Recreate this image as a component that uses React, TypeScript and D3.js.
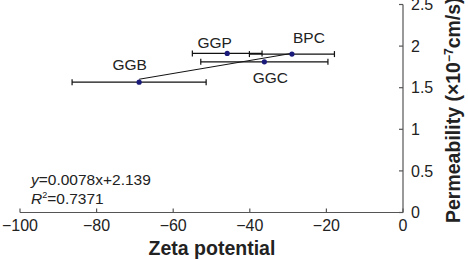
import React from "react";
import * as d3 from "d3";

const width = 468;
const height = 260;

const names = ["GGB", "GGP", "GGC", "BPC"];
const zeta = [-68.9, -45.9, -36.2, -29.0];
const zetaErr = [17.5, 9.1, 16.6, 11.1];
const permeability = [1.567, 1.912, 1.811, 1.904];

const xTicks = [-100, -80, -60, -40, -20, 0];
const yTicks = [0, 0.5, 1, 1.5, 2, 2.5];

const slope = 0.0078;
const intercept = 2.139;

// label offsets from the point, in px
const labelOffsets = [
  [-9.5, -12],
  [-12.5, -5],
  [6, 21.6],
  [17, -10.7],
];

const font = "'Liberation Sans', Arial, sans-serif";
const axisColor = "#555";

const App = () => {
  const x = d3.scaleLinear().domain([-100, 0]).range([20, 403]);
  const y = d3.scaleLinear().domain([0, 2.5]).range([212.5, 4.5]);
  const fmt = d3.format("");

  const xMin = d3.min(zeta) as number;
  const xMax = d3.max(zeta) as number;
  const line = d3
    .line<number>()
    .x((d) => x(d))
    .y((d) => y(slope * d + intercept));

  return (
    <svg
      width={width}
      height={height}
      style={{ position: "absolute", left: 0, top: 0, background: "#fff" }}
      fontFamily={font}
    >
      {/* x axis */}
      <line x1={x(-100)} x2={x(0)} y1={y(0)} y2={y(0)} stroke={axisColor} strokeWidth={1.2} />
      {xTicks.map((t) => (
        <g key={t}>
          <line x1={x(t)} x2={x(t)} y1={y(0)} y2={y(0) - 4} stroke={axisColor} strokeWidth={1.2} />
          <text x={x(t)} y={231} textAnchor="middle" fontSize={16} fill="#222">
            {fmt(t)}
          </text>
        </g>
      ))}
      <text x={212} y={255} textAnchor="middle" fontSize={19.5} fontWeight="bold" fill="#222">
        Zeta potential
      </text>

      {/* y axis on the right */}
      <line x1={x(0)} x2={x(0)} y1={y(0)} y2={y(2.5)} stroke={axisColor} strokeWidth={1.2} />
      {yTicks.map((t) => (
        <g key={t}>
          <line x1={x(0)} x2={x(0) - 4} y1={y(t)} y2={y(t)} stroke={axisColor} strokeWidth={1.2} />
          <text x={411} y={y(t)} dy="0.36em" fontSize={16} fill="#222">
            {fmt(t)}
          </text>
        </g>
      ))}
      <text
        transform="translate(460,223) rotate(-90)"
        fontSize={19.5}
        fontWeight="bold"
        fill="#222"
      >
        Permeability (×10
        <tspan fontSize={12} dy={-7}>−7</tspan>
        <tspan dy={7}>cm/s)</tspan>
      </text>

      {/* error bars */}
      {zeta.map((z, i) => {
        const py = y(permeability[i]);
        const x0 = x(z - zetaErr[i]);
        const x1 = x(z + zetaErr[i]);
        return (
          <g key={names[i]} stroke="#111" strokeWidth={1.2}>
            <line x1={x0} x2={x1} y1={py} y2={py} />
            <line x1={x0} x2={x0} y1={py - 3} y2={py + 3} />
            <line x1={x1} x2={x1} y1={py - 3} y2={py + 3} />
          </g>
        );
      })}

      {/* regression line */}
      <path d={line([xMin, xMax]) || ""} fill="none" stroke="#111" strokeWidth={1} />

      {/* points and labels */}
      {zeta.map((z, i) => (
        <g key={names[i]}>
          <circle cx={x(z)} cy={y(permeability[i])} r={2.6} fill="#1a1a7a" />
          <text
            x={x(z) + labelOffsets[i][0]}
            y={y(permeability[i]) + labelOffsets[i][1]}
            textAnchor="middle"
            fontSize={15.5}
            fill="#222"
          >
            {names[i]}
          </text>
        </g>
      ))}

      {/* equation */}
      <text x={31} y={185} fontSize={15.5} fill="#222">
        <tspan fontStyle="italic">y</tspan>=0.0078x+2.139
      </text>
      <text x={31} y={204} fontSize={15.5} fill="#222">
        <tspan fontStyle="italic">R</tspan>
        <tspan fontSize={9} dy={-6}>2</tspan>
        <tspan dy={6}>=0.7371</tspan>
      </text>
    </svg>
  );
};

export default App;
